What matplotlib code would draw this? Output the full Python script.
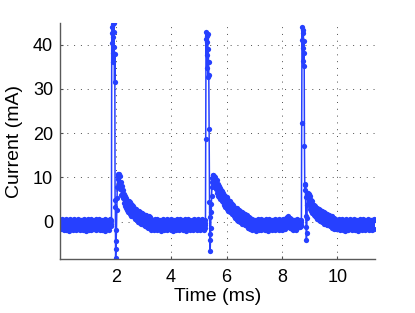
import numpy as np
import matplotlib
matplotlib.use("Agg")
import matplotlib.pyplot as plt

plt.rcParams["font.family"] = ["Liberation Sans", "DejaVu Sans"]

# current trace (mA)
# each segment: start time (ms), sample step (ms), values
base1 = [0.4, -1.7, 0.6, -1.5, 0.3, -1.9, 0.5, -1.6, 0.7, -1.8,
         0.2, -1.4, 0.5, -2.0, 0.6, -1.6, 0.4, -1.7, 0.3, -1.9,
         0.6, -1.5, 0.5, -1.8, 0.2, -1.7, 0.7, -1.6, 0.4, -1.9,
         0.5, -1.5, 0.3, -1.8, 0.6, -1.7, 0.4, -2.0, 0.5, -1.6,
         0.7, -1.8, 0.3, -1.5, 0.6, -1.9, 0.4, -1.7, 0.2, -1.6,
         0.5, -1.8, 0.6, -1.5, 0.3, -1.7, 0.7, -1.9, 0.4, -1.6,
         0.5, -1.8, 0.2, -1.7, 0.6, -2.0, 0.4, -1.5, 0.5, -1.7,
         0.3, -1.9, 0.6]
pulse1 = [-0.4, 0.3, -0.9, 0.1, 42.6, 40.3, 43.9, 38.2, 41.7, 44.6,
          36.0, 42.9, 44.8, 39.4, 31.5, 37.8, 4.9, 3.3, -8.2, -6.1,
          -4.3, -1.8, 2.6, 5.4, 7.9, 9.6, 10.4, 10.8]
decay1 = [10.8, 8.7, 10.3, 7.3, 9.0, 6.0, 8.0, 5.3, 7.2, 4.3,
          6.3, 3.6, 5.8, 3.2, 5.4, 2.7, 4.7, 2.2, 4.6, 2.2,
          4.4, 1.8, 4.0, 1.4, 3.9, 1.4, 3.5, 1.0, 3.1, 0.6,
          3.0, 0.6, 2.9, 0.3, 2.4, 0.0, 2.4, 0.0, 2.2, -0.3,
          2.0, -0.5, 2.0, -0.4, 1.8, -0.7, 1.5, -0.9, 1.5, -0.9,
          1.5, -1.1, 1.1, -1.3, 1.2, -1.2, 1.0, -1.5, 0.7, -1.8]
base2 = [0.5, -1.6, 0.3, -1.8, 0.6, -1.5, 0.4, -1.9, 0.7, -1.7,
         0.2, -1.6, 0.5, -2.0, 0.4, -1.5, 0.6, -1.8, 0.3, -1.7,
         0.5, -1.9, 0.7, -1.6, 0.4, -1.5, 0.2, -1.8, 0.6, -1.7,
         0.3, -2.0, 0.5, -1.6, 0.4, -1.8, 0.7, -1.5, 0.3, -1.9,
         0.6, -1.7, 0.2, -1.6, 0.5, -1.8, 0.4, -1.5, 0.6, -2.0,
         0.3, -1.7, 0.7, -1.6, 0.5, -1.9, 0.2, -1.5, 0.4, -1.8,
         0.6, -1.7, 0.3, -1.6, 0.5, -1.9, 0.7, -1.5, 0.4, -1.8,
         0.2, -1.7, 0.6, -1.6, 0.3, -1.9]
pulse2 = [-0.2, -1.3, 0.4, -0.7, 18.8, 41.2, 42.9, 37.6, 41.9, 34.8,
          40.5, 42.3, 32.6, 39.0, 36.1, 33.2, 21.0, 4.4, 1.0, -2.8,
          -6.6, -4.2, -1.5, 4.1, 2.3, 5.9, 7.8, 9.0, 9.9, 10.5]
decay2 = [10.5, 8.7, 10.4, 7.8, 10.0, 7.3, 9.4, 6.6, 8.5, 5.9,
          8.1, 5.6, 7.7, 5.1, 7.2, 4.6, 7.0, 4.5, 6.5, 3.9,
          6.0, 3.4, 5.8, 3.3, 5.5, 2.9, 4.9, 2.5, 4.8, 2.4,
          4.6, 2.1, 4.2, 1.7, 4.1, 1.7, 3.7, 1.2, 3.4, 0.8,
          3.2, 0.8, 3.1, 0.5, 2.6, 0.2, 2.6, 0.2, 2.4, -0.1,
          2.1, -0.4, 2.2, -0.2, 1.9, -0.5, 1.7, -0.8, 1.7, -0.7,
          1.6, -1.0, 1.1, -1.3, 1.1, -1.3, 0.9, -1.6]
base3 = [0.3, -1.8, 0.6, -1.5, 0.4, -1.7, 0.5, -2.0, 0.2, -1.6,
         0.7, -1.8, 0.4, -1.5, 0.6, -1.9, 0.3, -1.7, 0.5, -1.6,
         0.2, -1.8, 0.6, -1.5, 0.4, -2.0, 0.7, -1.7, 0.3, -1.6,
         0.5, -1.9, 0.4, -1.5, 0.6, -1.8, 0.2, -1.7, 0.5, -1.6,
         0.7, -1.9, 0.3, -1.5, 0.4, -1.8, 0.6, -1.7, 0.5, -1.6,
         0.8, -1.2, 1.1, -0.9, 1.2, -1.1, 0.9, -1.4, 0.6, -1.7,
         0.4, -1.8, 0.5, -1.6, 0.3, -1.9, 0.6, -1.5, 0.4]
pulse3 = [-0.5, 0.2, -1.1, -0.3, 0.4, -0.8, -0.1, -1.0, 0.3, 22.4,
          41.0, 44.0, 39.2, 42.6, 36.4, 43.3, 35.1, 40.8, 38.0, 17.1,
          8.6, 7.1, 8.2, 5.6, 1.2, -1.1, -4.0, -2.6, 0.8, 3.9,
          5.4, 6.3, 6.6]
decay3 = [6.3, 4.1, 5.8, 2.8, 5.0, 2.4, 4.6, 1.9, 3.9, 1.5,
          3.8, 1.4, 3.6, 1.0, 3.2, 0.7, 3.2, 0.8, 2.9, 0.4,
          2.6, 0.1, 2.5, 0.1, 2.5, -0.1, 2.0, -0.4, 2.1, -0.3,
          1.9, -0.5, 1.7, -0.7, 1.8, -0.5, 1.6, -0.8, 1.4, -1.0,
          1.4, -1.0, 1.3, -1.3, 0.8, -1.6, 0.9, -1.5, 0.7, -1.7]
base4 = [0.5, -1.7, 0.3, -1.6, 0.6, -1.9, 0.4, -1.5, 0.7, -1.8,
         0.2, -1.7, 0.5, -2.0, 0.6, -1.6, 0.3, -1.8, 0.4, -1.5,
         0.7, -1.7, 0.5, -1.9, 0.2, -1.6, 0.6, -1.8, 0.4, -1.5,
         0.3, -2.0, 0.5, -1.7, 0.6, -1.6, 0.4, -1.8, 0.7, -1.5,
         0.3, -1.9, 0.5, -1.7, 0.2, -1.6, 0.6, -1.8, 0.4, -1.5,
         0.5, -1.9, 0.3, -1.7, 0.6, -1.6, 0.4]

segments = [
    (0.00, 0.025, base1),
    (1.82, 0.01, pulse1),
    (2.11, 0.02, decay1),
    (3.31, 0.025, base2),
    (5.21, 0.01, pulse2),
    (5.52, 0.02, decay2),
    (6.88, 0.025, base3),
    (8.62, 0.01, pulse3),
    (8.96, 0.02, decay3),
    (9.96, 0.025, base4),
]

time = []
current = []
for start, step, vals in segments:
    time.extend(start + step * np.arange(len(vals)))
    current.extend(vals)

blue = "#2640ff"

fig = plt.figure(figsize=(4.15, 3.13), dpi=100)
ax = fig.add_axes([0.145, 0.1725, 0.759, 0.753])

ax.plot(time, current, "-", color=blue, lw=1.1,
        marker="o", ms=3.8, mew=0, mfc=blue)

ax.set_xlim(0, 11.36)
ax.set_ylim(-8.4, 44.8)
ax.set_xticks([2, 4, 6, 8, 10])
ax.set_yticks([0, 10, 20, 30, 40])

ax.set_axisbelow(True)
ax.grid(True, linestyle=(0, (1, 6)), color="0.3", linewidth=0.7)

for s in ["top", "right"]:
    ax.spines[s].set_visible(False)
for s in ["left", "bottom"]:
    ax.spines[s].set_color("0.35")
    ax.spines[s].set_linewidth(1.0)

ax.tick_params(direction="in", length=2.5, width=0.8, color="0.3",
               labelsize=13, pad=5)
ax.tick_params(axis="x", pad=7)

ax.set_xlabel("Time (ms)", fontsize=14)
ax.set_ylabel("Current (mA)", fontsize=14)
ax.xaxis.set_label_coords(0.5, -0.159)
ax.xaxis.label.set_verticalalignment("center")
ax.yaxis.set_label_coords(-0.1455, 0.5)
ax.yaxis.label.set_verticalalignment("center")

fig.savefig("out.png", dpi=100)
